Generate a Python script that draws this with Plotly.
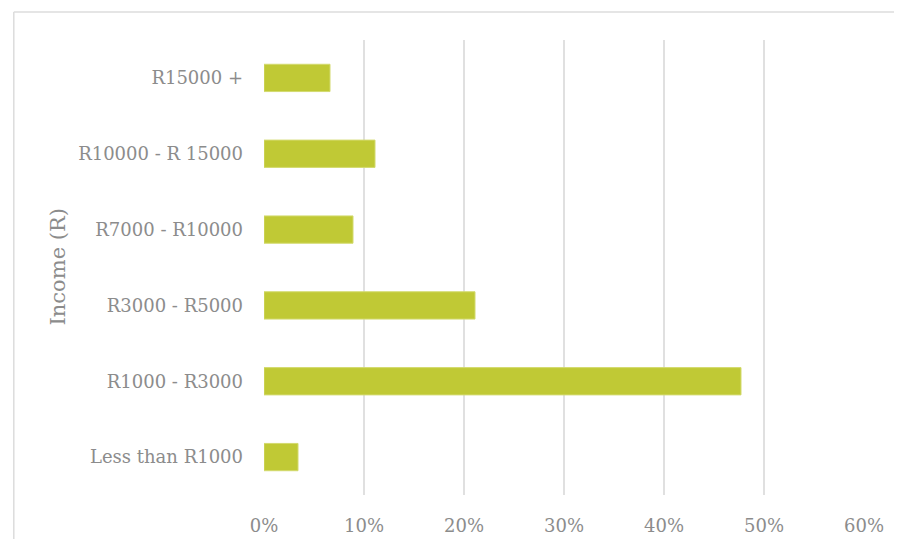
import plotly.graph_objects as go

categories = ["Less than R1000", "R1000 - R3000", "R3000 - R5000",
              "R7000 - R10000", "R10000 - R 15000", "R15000 +"]
values = [0.034, 0.477, 0.211, 0.089, 0.111, 0.066]
x_ticks = [0, 0.1, 0.2, 0.3, 0.4, 0.5, 0.6]
x_tick_labels = ["0%", "10%", "20%", "30%", "40%", "50%", "60%"]
axis_title = "Income (R)"

FONT = "DejaVu Serif"
GRAY = "#8c8c8c"
FRAME = "#dcdcdc"

fig = go.Figure(go.Bar(
    x=values, y=categories, orientation="h",
    marker=dict(color="#c0c935", line=dict(color="#d3da6e", width=1)),
    width=0.36,
))

fig.update_layout(
    width=886, height=531,
    margin=dict(l=256, r=30, t=32, b=44),
    paper_bgcolor="white", plot_bgcolor="white",
    showlegend=False,
    font=dict(family=FONT, color=GRAY, size=18),
    xaxis=dict(range=[0, 0.6], tickvals=x_ticks, ticktext=x_tick_labels,
               showgrid=True, gridcolor="#e0e0e0", gridwidth=1.5,
               zeroline=False, showline=False, ticks="", automargin=False,
               ticklabelstandoff=18, tickfont=dict(size=18, color=GRAY)),
    yaxis=dict(categoryorder="array", categoryarray=categories,
               showgrid=False, zeroline=False, showline=False, ticks="",
               automargin=False,
               ticklabelstandoff=20, tickfont=dict(size=18, color=GRAY)),
    shapes=[
        dict(type="line", xref="paper", yref="paper",
             x0=-0.417, x1=1.5, y0=1.0615, y1=1.0615,
             line=dict(color=FRAME, width=1.5), layer="below"),
        dict(type="line", xref="paper", yref="paper",
             x0=-0.417, x1=-0.417, y0=-0.3, y1=1.0615,
             line=dict(color=FRAME, width=1.5), layer="below"),
    ],
    annotations=[dict(text=axis_title, xref="paper", yref="paper",
                      x=-0.345, y=0.5, textangle=-90, showarrow=False,
                      font=dict(family=FONT, size=21, color=GRAY),
                      xanchor="center", yanchor="middle")],
)

fig.write_html("out.html")
